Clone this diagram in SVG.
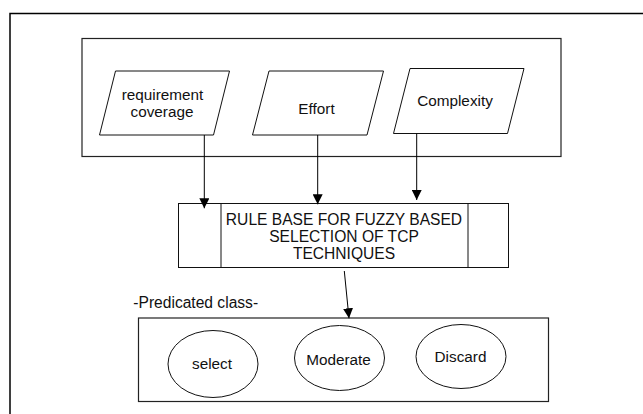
<svg xmlns="http://www.w3.org/2000/svg" width="643" height="414" viewBox="0 0 643 414">
<style>
.box{fill:none;stroke:#222;stroke-width:1.2}
.shape{fill:#fff;stroke:#111;stroke-width:1}
.t{font-family:"Liberation Sans",Arial,sans-serif;font-size:15.3px;fill:#111;text-anchor:middle}
.c{stroke:#000;stroke-width:1;fill:none}
</style>
<defs>
<marker id="ah" markerUnits="userSpaceOnUse" markerWidth="10" markerHeight="10" refX="10" refY="5" orient="auto">
<path d="M0,0 L10,5 L0,10 z" fill="#000"/>
</marker>
</defs>
<rect width="643" height="414" fill="#fff"/>
<path d="M10,414 V13.5 H643" fill="none" stroke="#000" stroke-width="1.5"/>
<g id="inputs">
<rect class="box" x="82" y="38.5" width="479" height="118"/>
</g>
<g id="req">
<polygon class="shape" points="115.5,71 229.5,71 213.5,135 99.5,135"/>
<text class="t" x="162.5" y="100">requirement</text>
<text class="t" x="162" y="117">coverage</text>
</g>
<g id="effort">
<polygon class="shape" points="269,71 383.5,71 367,135 252.5,135"/>
<text class="t" x="316.5" y="114">Effort</text>
</g>
<g id="complexity">
<polygon class="shape" points="410,68.5 524,68.5 507.5,133.5 393.5,133.5"/>
<text class="t" x="455" y="106">Complexity</text>
</g>
<g id="rulebase">
<rect class="shape" x="178.5" y="203.5" width="330" height="64"/>
<line class="shape" x1="221" y1="203.5" x2="221" y2="267.5"/>
<line class="shape" x1="468" y1="203.5" x2="468" y2="267.5"/>
<text class="t" x="344" y="224.7" style="font-size:15.6px">RULE BASE FOR FUZZY BASED</text>
<text class="t" x="344" y="241.5" style="font-size:15.6px">SELECTION OF TCP</text>
<text class="t" x="344" y="258.7" style="font-size:15.6px">TECHNIQUES</text>
</g>
<g id="classes">
<text class="t" x="133.3" y="307.5" style="text-anchor:start;font-size:15.6px">-Predicated class-</text>
<rect class="box" x="138.5" y="318" width="410" height="83.5"/>
</g>
<g id="select">
<ellipse class="shape" cx="213" cy="364" rx="45" ry="33.5"/>
<text class="t" x="212" y="368.5">select</text>
</g>
<g id="moderate">
<ellipse class="shape" cx="339.5" cy="358" rx="45" ry="32.5"/>
<text class="t" x="338.5" y="365">Moderate</text>
</g>
<g id="discard">
<ellipse class="shape" cx="461" cy="356.5" rx="45" ry="32"/>
<text class="t" x="460.5" y="362">Discard</text>
</g>
<g id="connectors">
<line class="c" x1="204.3" y1="135" x2="204.3" y2="208.3" marker-end="url(#ah)"/>
<line class="c" x1="317.7" y1="135" x2="317.7" y2="204.3" marker-end="url(#ah)"/>
<line class="c" x1="416.7" y1="133.5" x2="416.7" y2="200" marker-end="url(#ah)"/>
<line class="c" x1="344.3" y1="271" x2="349" y2="318.3" marker-end="url(#ah)"/>
</g>
</svg>
